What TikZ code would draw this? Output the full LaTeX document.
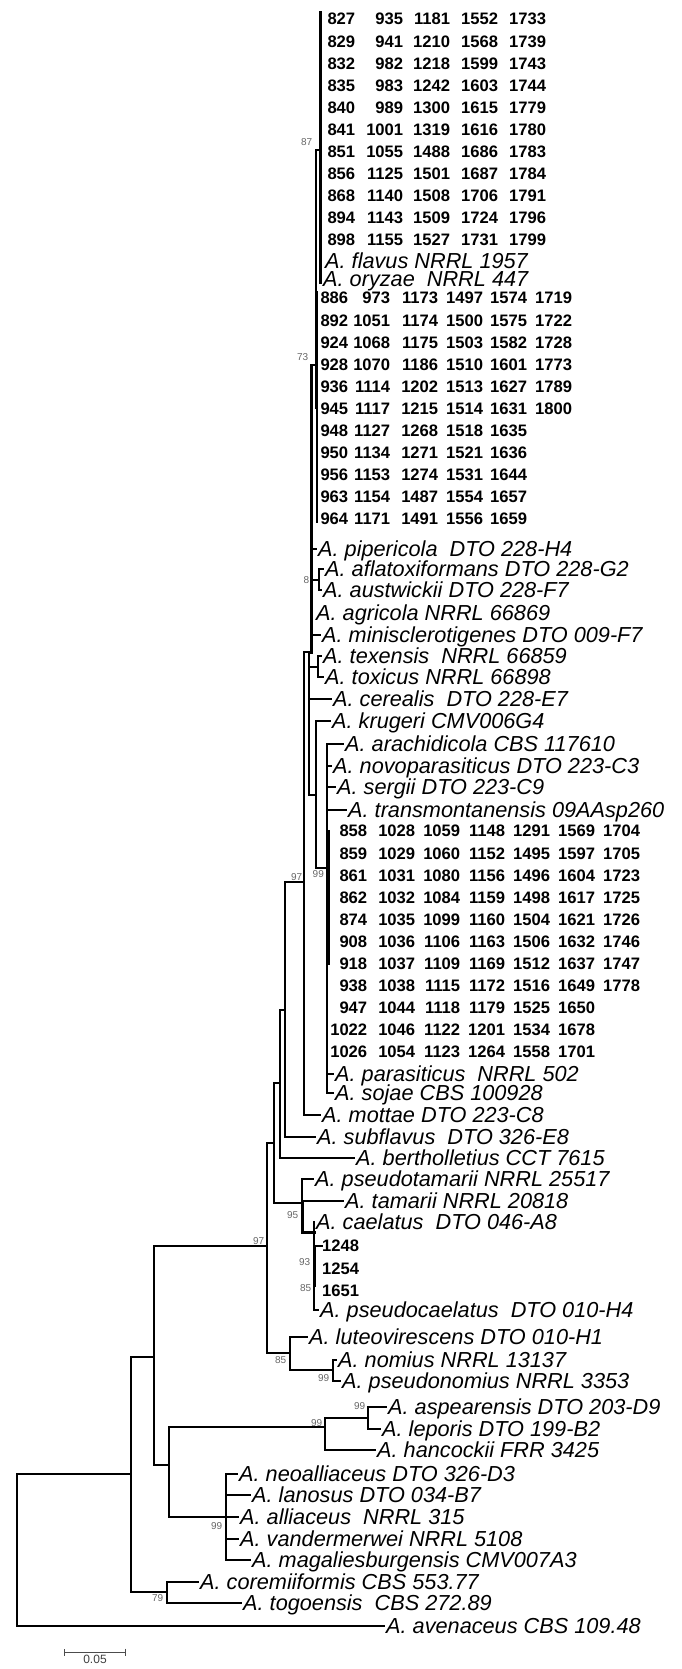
\documentclass[tikz,border=0pt]{standalone}
\usepackage{fontspec}
\setmainfont{Liberation Sans}
\usepackage{array}
\usetikzlibrary{positioning,calc,arrows.meta}
\newcolumntype{N}[1]{>{\raggedleft\arraybackslash}p{#1}}

\begin{document}
\begin{tikzpicture}[
    x=1pt, y=-1pt,
    branch/.style={line width=2pt, line cap=rect},
    fatbranch/.style={line width=3pt, line cap=rect},
    leaf/.style={anchor=west, inner xsep=2pt, inner ysep=0pt, text height=15.5pt, text depth=0pt, font=\fontsize{21.7}{22}\selectfont\itshape},
    numblock/.style={anchor=base west, inner sep=0pt, font=\fontsize{16.6}{22.1}\selectfont\bfseries},
    boot/.style={inner sep=0.5pt, text=black!60, font=\fontsize{10}{10}\selectfont},
    scalebar/.style={{Bar[width=7pt]}-{Bar[width=7pt]}, line width=0.8pt, black!70},
]
\useasboundingbox (0,0) rectangle (681,1669);

% Strain blocks
\node[numblock] (clA) at (315,24.95) {\setlength{\tabcolsep}{0pt}\begin{tabular}[t]{N{40pt}N{48pt}N{47pt}N{48pt}N{48pt}}
827 & 935 & 1181 & 1552 & 1733\\
829 & 941 & 1210 & 1568 & 1739\\
832 & 982 & 1218 & 1599 & 1743\\
835 & 983 & 1242 & 1603 & 1744\\
840 & 989 & 1300 & 1615 & 1779\\
841 & 1001 & 1319 & 1616 & 1780\\
851 & 1055 & 1488 & 1686 & 1783\\
856 & 1125 & 1501 & 1687 & 1784\\
868 & 1140 & 1508 & 1706 & 1791\\
894 & 1143 & 1509 & 1724 & 1796\\
898 & 1155 & 1527 & 1731 & 1799
\end{tabular}};
\node[numblock] (clB) at (308,303.95) {\setlength{\tabcolsep}{0pt}\begin{tabular}[t]{N{40pt}N{42pt}N{48pt}N{45pt}N{44pt}N{45pt}}
886 & 973 & 1173 & 1497 & 1574 & 1719\\
892 & 1051 & 1174 & 1500 & 1575 & 1722\\
924 & 1068 & 1175 & 1503 & 1582 & 1728\\
928 & 1070 & 1186 & 1510 & 1601 & 1773\\
936 & 1114 & 1202 & 1513 & 1627 & 1789\\
945 & 1117 & 1215 & 1514 & 1631 & 1800\\
948 & 1127 & 1268 & 1518 & 1635 & \\
950 & 1134 & 1271 & 1521 & 1636 & \\
956 & 1153 & 1274 & 1531 & 1644 & \\
963 & 1154 & 1487 & 1554 & 1657 & \\
964 & 1171 & 1491 & 1556 & 1659 &
\end{tabular}};
\node[numblock] (clC) at (327,836.95) {\setlength{\tabcolsep}{0pt}\begin{tabular}[t]{N{40pt}N{48pt}N{45pt}N{45pt}N{45pt}N{45pt}N{45pt}}
858 & 1028 & 1059 & 1148 & 1291 & 1569 & 1704\\
859 & 1029 & 1060 & 1152 & 1495 & 1597 & 1705\\
861 & 1031 & 1080 & 1156 & 1496 & 1604 & 1723\\
862 & 1032 & 1084 & 1159 & 1498 & 1617 & 1725\\
874 & 1035 & 1099 & 1160 & 1504 & 1621 & 1726\\
908 & 1036 & 1106 & 1163 & 1506 & 1632 & 1746\\
918 & 1037 & 1109 & 1169 & 1512 & 1637 & 1747\\
938 & 1038 & 1115 & 1172 & 1516 & 1649 & 1778\\
947 & 1044 & 1118 & 1179 & 1525 & 1650 & \\
1022 & 1046 & 1122 & 1201 & 1534 & 1678 & \\
1026 & 1054 & 1123 & 1264 & 1558 & 1701 &
\end{tabular}};
\node[numblock] (clD) at (322,1251.95) {\setlength{\tabcolsep}{0pt}\begin{tabular}[t]{l}
1248\\ 1254\\ 1651
\end{tabular}};

% Species
\node[leaf] (fla) at (323,261) {A. flavus NRRL 1957};
\node[leaf] (ory) at (321,279) {A. oryzae~~NRRL 447};
\node[leaf] (pip) at (316,549) {A. pipericola~~DTO 228-H4};
\node[leaf] (afl) at (323,569) {A. aflatoxiformans DTO 228-G2};
\node[leaf] (aus) at (321,590) {A. austwickii DTO 228-F7};
\node[leaf] (agr) at (314,613) {A. agricola NRRL 66869};
\node[leaf] (min) at (320,635) {A. minisclerotigenes DTO 009-F7};
\node[leaf] (tex) at (321,656) {A. texensis~~NRRL 66859};
\node[leaf] (tox) at (323,677) {A. toxicus NRRL 66898};
\node[leaf] (cer) at (331,699) {A. cerealis~~DTO 228-E7};
\node[leaf] (kru) at (330,721) {A. krugeri CMV006G4};
\node[leaf] (ara) at (343,744) {A. arachidicola CBS 117610};
\node[leaf] (nov) at (331,766) {A. novoparasiticus DTO 223-C3};
\node[leaf] (ser) at (335,787) {A. sergii DTO 223-C9};
\node[leaf] (tra) at (346,810) {A. transmontanensis 09AAsp260};
\node[leaf] (par) at (333,1074) {A. parasiticus~~NRRL 502};
\node[leaf] (soj) at (333,1093) {A. sojae CBS 100928};
\node[leaf] (mot) at (320,1115) {A. mottae DTO 223-C8};
\node[leaf] (sub) at (315,1137) {A. subflavus~~DTO 326-E8};
\node[leaf] (ber) at (354,1158) {A. bertholletius CCT 7615};
\node[leaf] (pst) at (313,1179) {A. pseudotamarii NRRL 25517};
\node[leaf] (tam) at (343,1201) {A. tamarii NRRL 20818};
\node[leaf] (cae) at (314,1222) {A. caelatus~~DTO 046-A8};
\node[leaf] (pca) at (318,1310) {A. pseudocaelatus~~DTO 010-H4};
\node[leaf] (lut) at (307,1337) {A. luteovirescens DTO 010-H1};
\node[leaf] (nom) at (336,1360) {A. nomius NRRL 13137};
\node[leaf] (psn) at (340,1381) {A. pseudonomius NRRL 3353};
\node[leaf] (asp) at (386,1407) {A. aspearensis DTO 203-D9};
\node[leaf] (lep) at (380,1429) {A. leporis DTO 199-B2};
\node[leaf] (han) at (375,1450) {A. hancockii FRR 3425};
\node[leaf] (neo) at (237,1474) {A. neoalliaceus DTO 326-D3};
\node[leaf] (lan) at (250,1495) {A. lanosus DTO 034-B7};
\node[leaf] (all) at (238,1517) {A. alliaceus~~NRRL 315};
\node[leaf] (van) at (238,1539) {A. vandermerwei NRRL 5108};
\node[leaf] (mag) at (250,1560) {A. magaliesburgensis CMV007A3};
\node[leaf] (cor) at (198,1582) {A. coremiiformis CBS 553.77};
\node[leaf] (tog) at (241,1603) {A. togoensis~~CBS 272.89};
\node[leaf] (ave) at (384,1626) {A. avenaceus CBS 109.48};

% Internal nodes
\coordinate (c1top) at (320,13);
\coordinate (c1bot) at (320,283);
\coordinate (n87) at (316,150);
\coordinate (c2top) at (317,292);
\coordinate (c2bot) at (317,522);
\coordinate (c2mid) at (317,408);
\coordinate (n73) at (311,365);
\coordinate (n73bot) at (311,652);
\coordinate (n8) at (319,580);
\coordinate (ntex) at (318,667);
\coordinate (nQ) at (309,652);
\coordinate (nP) at (316,795);
\coordinate (n97top) at (304,652);
\coordinate (n97) at (304,882);
\coordinate (n99) at (327,868);
\coordinate (c3top) at (328,831);
\coordinate (c3bot) at (328,963);
\coordinate (nI) at (285,1010);
\coordinate (nH) at (280,1083);
\coordinate (nG) at (274,1143);
\coordinate (n95) at (302,1203);
\coordinate (n93) at (314,1232);
\coordinate (c4top) at (314,1246);
\coordinate (c4bot) at (314,1285);
\coordinate (nC) at (267,1246);
\coordinate (n85) at (290,1353);
\coordinate (n99b) at (333,1370);
\coordinate (nB) at (154,1357);
\coordinate (nD) at (169,1465);
\coordinate (nE) at (325,1427);
\coordinate (nAL) at (368,1418);
\coordinate (nF) at (226,1517);
\coordinate (nA) at (131,1474);
\coordinate (n79) at (167,1592);
\coordinate (root) at (17,1550);

% Branches
\draw[fatbranch] (c1top) -- (c1bot);
\draw[branch] (n87) -- (n87 -| c1top);
\draw[branch] (n87) |- (c2mid);
\draw[branch] (c2top) -- (c2bot);
\draw[fatbranch] (n73) -- (n73bot);
\draw[branch] (n73) -- (n73 -| n87);
\draw[branch] (pip.west -| n73) -- (pip.west);
\draw[branch] (n8 -| n73) -- (n8);
\draw[branch] (n8) |- (afl.west);
\draw[branch] (n8) |- (aus.west);
\draw[branch] (min.west -| n73) -- (min.west);
\draw[branch] (ntex -| nQ) -- (ntex);
\draw[branch] (ntex) |- (tex.west);
\draw[branch] (ntex) |- (tox.west);
\draw[branch] (n97top) -- (n73bot);
\draw[branch] (nQ) |- (nP);
\draw[branch] (cer.west -| nQ) -- (cer.west);
\draw[branch] (nP) |- (kru.west);
\draw[branch] (nP) |- (n99);
\draw[branch] (n99) |- (ara.west);
\draw[branch] (n99) |- (nov.west);
\draw[branch] (n99) |- (ser.west);
\draw[branch] (n99) |- (tra.west);
\draw[branch] (n99) |- (par.west);
\draw[branch] (n99) |- (soj.west);
\draw[fatbranch] (c3top) -- (c3bot);
\draw[branch] (n97top) |- (mot.west);
\draw[branch] (nI) |- (n97);
\draw[branch] (nI) |- (sub.west);
\draw[branch] (nH) |- (nI);
\draw[branch] (nH) |- (ber.west);
\draw[branch] (nG) |- (nH);
\draw[branch] (nG) |- (n95);
\draw[branch] (n95) |- (pst.west);
\draw[branch] (n95) |- (tam.west);
\draw[fatbranch] (n95) |- (n93);
\draw[branch] (n93) |- (cae.west);
\draw[branch] (n93) |- (pca.west);
\draw[fatbranch] (c4top) -- (c4bot);
\draw[branch] (c4top) -- (c4top -| clD.west);
\draw[branch] (nC) |- (nG);
\draw[branch] (nC) |- (n85);
\draw[branch] (n85) |- (lut.west);
\draw[branch] (n85) |- (n99b);
\draw[branch] (n99b) |- (nom.west);
\draw[branch] (n99b) |- (psn.west);
\draw[branch] (nB) |- (nC);
\draw[branch] (nB) |- (nD);
\draw[branch] (nD) |- (nE);
\draw[branch] (nD) |- (nF);
\draw[branch] (nE) |- (nAL);
\draw[branch] (nE) |- (han.west);
\draw[branch] (nAL) |- (asp.west);
\draw[branch] (nAL) |- (lep.west);
\draw[branch] (nF) |- (neo.west);
\draw[branch] (nF) |- (lan.west);
\draw[branch] (nF) |- (all.west);
\draw[branch] (nF) |- (van.west);
\draw[branch] (nF) |- (mag.west);
\draw[branch] (nA) |- (nB);
\draw[branch] (nA) |- (n79);
\draw[branch] (n79) |- (cor.west);
\draw[branch] (n79) |- (tog.west);
\draw[branch] (root) |- (nA);
\draw[branch] (root) |- (ave.west);

% Bootstrap values
\node[boot, anchor=east] (b87) at (313,142) {87};
\node[boot, anchor=east] (b73) at (309,357) {73};
\node[boot, anchor=east] (b8) at (310,580) {8};
\node[boot, anchor=south east] (b97a) at (303,881) {97};
\node[boot, anchor=north west] (b99a) at (312,870) {99};
\node[boot, anchor=south east] (b97b) at (265,1245) {97};
\node[boot, anchor=east] (b95) at (299,1215) {95};
\node[boot, anchor=east] (b93) at (311,1262) {93};
\node[boot, anchor=east] (b85a) at (312,1288) {85};
\node[boot, anchor=east] (b85b) at (287,1360) {85};
\node[boot, anchor=east] (b99b) at (330,1378) {99};
\node[boot, anchor=south east] (b99c) at (366,1410) {99};
\node[boot, anchor=south east] (b99d) at (323,1427) {99};
\node[boot, anchor=east] (b99e) at (223,1526) {99};
\node[boot, anchor=east] (b79) at (164,1598) {79};

% Scale bar
\coordinate (sb1) at (64,1652);
\coordinate (sb2) at (126,1652);
\draw[scalebar] (sb1) -- (sb2);
\node[boot, text=black!75, font=\fontsize{12}{12}\selectfont, below=2pt of $(sb1)!0.5!(sb2)$] (sblab) {0.05};

\end{tikzpicture}
\end{document}
